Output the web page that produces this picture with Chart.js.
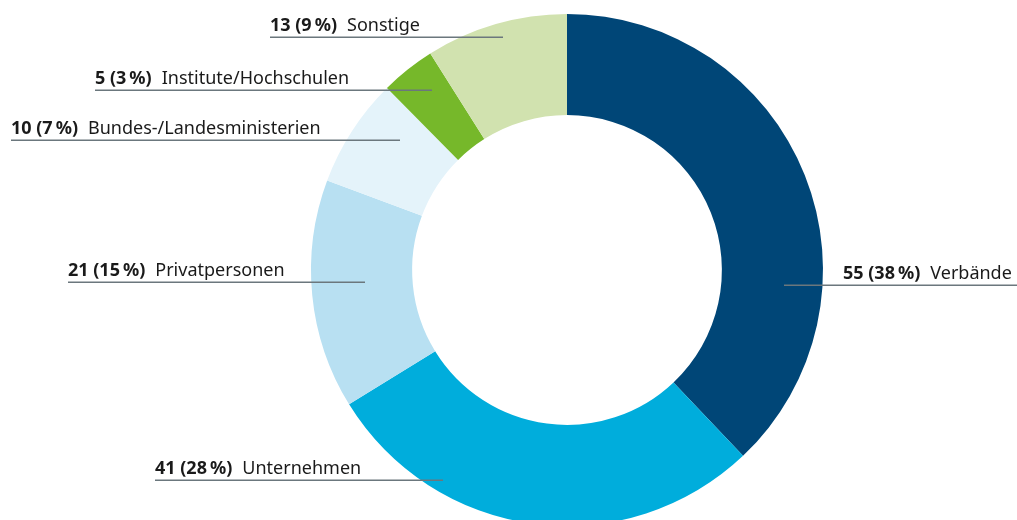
<!DOCTYPE html>
<html><head><meta charset="utf-8">
<script src="https://cdn.jsdelivr.net/npm/chart.js@4/dist/chart.umd.min.js"></script>
<style>
html,body{margin:0;padding:0;background:#fff;overflow:hidden;width:1017px;height:520px;}
#wrap{position:absolute;left:0;top:0;width:1017px;height:540px;}
</style></head>
<body>
<div id="wrap"><canvas id="c"></canvas></div>
<script>
const categories = ["Verbände","Unternehmen","Privatpersonen","Bundes-/Landesministerien","Institute/Hochschulen","Sonstige"];
const counts = [55,41,21,10,5,13];
const percents = [38,28,15,7,3,9];
const colors = ["#004677","#00ADDC","#B8E0F2","#E4F3FA","#76B82A","#D1E2AF"];
// label layout: text x, line y, line x start, line x end
const labelLayout = [
  {tx:843, ly:285, x0:784, x1:1017},
  {tx:155, ly:480, x0:155, x1:443},
  {tx:68,  ly:282, x0:68,  x1:365},
  {tx:11,  ly:140, x0:11,  x1:400},
  {tx:95,  ly:90,  x0:95,  x1:432},
  {tx:270, ly:37,  x0:270, x1:503}
];
const labelPlugin = {
  id:'labels',
  afterDatasetsDraw(chart){
    const ctx = chart.ctx;
    ctx.save();
    categories.forEach((cat,i)=>{
      const L = labelLayout[i];
      ctx.strokeStyle = '#6b777d';
      ctx.lineWidth = 1.5;
      ctx.beginPath();
      ctx.moveTo(L.x0, L.ly+0.25);
      ctx.lineTo(L.x1, L.ly+0.25);
      ctx.stroke();
      ctx.fillStyle = '#1a1a1a';
      ctx.textBaseline = 'alphabetic';
      ctx.font = 'bold 18px "Noto Sans"';
      const bold = counts[i] + ' (' + percents[i] + '\u2009%)';
      ctx.fillText(bold, L.tx, L.ly-6);
      const w = ctx.measureText(bold).width;
      ctx.font = '18px "Noto Sans"';
      ctx.fillText(cat, L.tx + w + 10, L.ly-6);
    });
    ctx.restore();
  }
};
new Chart(document.getElementById('c'), {
  type:'doughnut',
  data:{labels:categories, datasets:[{data:counts, backgroundColor:colors, borderWidth:0}]},
  options:{
    responsive:true, maintainAspectRatio:false, animation:false,
    cutout:'60.5%',
    layout:{padding:{left:117,right:0,top:14,bottom:14}},
    plugins:{legend:{display:false}, tooltip:{enabled:false}}
  },
  plugins:[labelPlugin]
});
</script>
</body></html>
